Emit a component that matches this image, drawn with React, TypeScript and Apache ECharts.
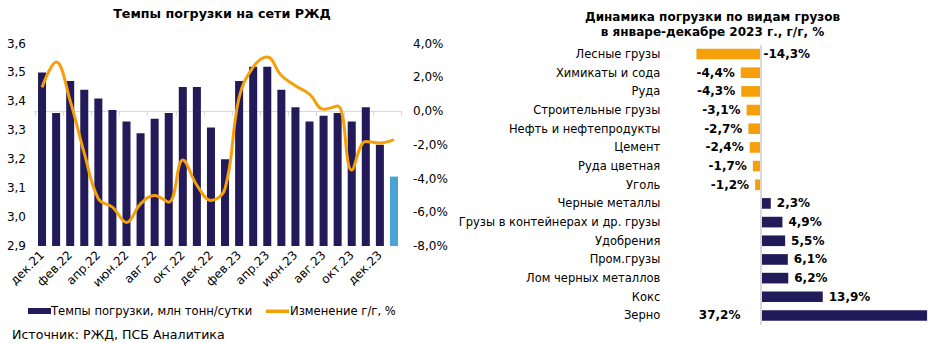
import React, { useEffect, useRef } from "react";
import * as echarts from "echarts";

const months = [
  "дек.21", "янв.22", "фев.22", "мар.22", "апр.22", "май.22", "июн.22", "июл.22", "авг.22",
  "сен.22", "окт.22", "ноя.22", "дек.22", "янв.23", "фев.23", "мар.23", "апр.23", "май.23",
  "июн.23", "июл.23", "авг.23", "сен.23", "окт.23", "ноя.23", "дек.23", "янв.24",
];
const loading = [
  3.50, 3.36, 3.47, 3.44, 3.41, 3.37, 3.33, 3.29, 3.34, 3.36, 3.45, 3.45, 3.31,
  3.20, 3.47, 3.52, 3.52, 3.44, 3.38, 3.33, 3.35, 3.36, 3.33, 3.38, 3.25, 3.14,
];
const yoy = [
  1.4, 2.9, 0.6, -2.5, -5.2, -5.7, -6.6, -5.5, -5.0, -5.4, -2.9, -4.4, -5.3,
  -4.6, 0.8, 2.6, 3.2, 2.1, 1.5, 1.0, 0.1, 0.3, -3.5, -1.8, -1.9, -1.7,
];

const cargo = [
  "Лесные грузы", "Химикаты и сода", "Руда", "Строительные грузы", "Нефть и нефтепродукты",
  "Цемент", "Руда цветная", "Уголь", "Черные металлы", "Грузы в контейнерах и др. грузы",
  "Удобрения", "Пром.грузы", "Лом черных металлов", "Кокс", "Зерно",
];
const change = [-14.3, -4.4, -4.3, -3.1, -2.7, -2.4, -1.7, -1.2, 2.3, 4.9, 5.5, 6.1, 6.2, 13.9, 37.2];

const legendNames = ["Темпы погрузки, млн тонн/сутки", "Изменение г/г, %"];

const NAVY = "#231A5A";
const ORANGE = "#F5A00B";
const BLUE = "#4AA3D4";
const GREY = "#D9D9D9";
const FONT = "'DejaVu Sans', Verdana, sans-serif";

const comma = (v: number, d: number) => v.toFixed(d).replace(".", ",");

export default function App() {
  const ref = useRef<HTMLDivElement>(null);
  useEffect(() => {
    if (!ref.current) return;
    const chart = echarts.init(ref.current, null, { renderer: "svg" });
    const lastIdx = loading.length - 1;
    chart.setOption({
      animation: false,
      textStyle: { fontFamily: FONT },
      grid: [
        { left: 35, top: 43.5, width: 366, height: 202.5, containLabel: false },
        { left: 693.3, top: 44.7, width: 237.4, height: 280.1, containLabel: false },
      ],
      xAxis: [
        {
          type: "category",
          gridIndex: 0,
          data: months,
          boundaryGap: true,
          axisLine: { lineStyle: { color: GREY, width: 1 } },
          axisTick: { show: true, interval: 1, length: 5, lineStyle: { color: GREY } },
          axisLabel: {
            interval: 1,
            rotate: 45,
            margin: 7,
            color: "#000",
            fontSize: 12,
            fontFamily: FONT,
          },
        },
        {
          type: "value",
          gridIndex: 1,
          min: -15,
          max: 38,
          show: false,
        },
      ],
      yAxis: [
        {
          type: "value",
          gridIndex: 0,
          min: 2.9,
          max: 3.6,
          interval: 0.1,
          splitLine: { show: false },
          axisLine: { show: false },
          axisTick: { show: false },
          axisLabel: {
            margin: 9,
            color: "#000",
            fontSize: 12,
            fontFamily: FONT,
            formatter: (v: number) => comma(v, 1),
          },
        },
        {
          type: "value",
          gridIndex: 0,
          position: "right",
          min: -8,
          max: 4,
          interval: 2,
          splitLine: { show: false },
          axisLine: { show: false },
          axisTick: { show: false },
          axisLabel: {
            margin: 12,
            color: "#000",
            fontSize: 12,
            fontFamily: FONT,
            formatter: (v: number) => comma(v, 1) + "%",
          },
        },
        {
          type: "category",
          gridIndex: 1,
          data: cargo,
          inverse: true,
          axisLine: { show: false },
          axisTick: { show: false },
          axisLabel: {
            margin: 33,
            color: "#000",
            fontSize: 11.5,
            fontFamily: FONT,
          },
        },
      ],
      series: [
        {
          name: legendNames[0],
          type: "bar",
          xAxisIndex: 0,
          yAxisIndex: 0,
          barWidth: "57%",
          itemStyle: { color: NAVY },
          data: loading.map((v, i) =>
            i === lastIdx ? { value: v, itemStyle: { color: BLUE } } : v
          ),
        },
        {
          name: legendNames[1],
          type: "line",
          xAxisIndex: 0,
          yAxisIndex: 1,
          smooth: 0.4,
          symbol: "none",
          lineStyle: { color: ORANGE, width: 3 },
          itemStyle: { color: ORANGE },
          data: yoy,
        },
        {
          name: "cargo",
          type: "bar",
          xAxisIndex: 1,
          yAxisIndex: 2,
          barWidth: "57%",
          label: {
            show: true,
            fontSize: 12,
            fontWeight: "bold",
            color: "#000",
            fontFamily: FONT,
            distance: 6,
            formatter: (p: any) => comma(p.value, 1) + "%",
          },
          markLine: {
            silent: true,
            symbol: "none",
            label: { show: false },
            lineStyle: { color: GREY, width: 2, type: "solid" },
            data: [{ xAxis: 0 }],
          },
          data: change.map((v, i) => {
            let position = v < 0 ? "left" : "right";
            let distance = 6;
            if (i === 0) { position = "right"; distance = 3; }
            if (i === change.length - 1) { position = "left"; distance = 20; }
            return {
              value: v,
              itemStyle: { color: v < 0 ? ORANGE : NAVY },
              label: { position, distance },
            };
          }),
        },
      ],
      graphic: [
        {
          type: "text",
          x: 222,
          y: 13,
          style: {
            text: "Темпы погрузки на сети РЖД",
            textAlign: "center",
            textVerticalAlign: "middle",
            font: `bold 12.7px ${FONT}`,
            fill: "#000",
          },
        },
        {
          type: "text",
          x: 712.5,
          y: 17,
          style: {
            text: "Динамика погрузки по видам грузов",
            textAlign: "center",
            textVerticalAlign: "middle",
            font: `bold 12px ${FONT}`,
            fill: "#000",
          },
        },
        {
          type: "text",
          x: 712.5,
          y: 32,
          style: {
            text: "в январе-декабре 2023 г., г/г, %",
            textAlign: "center",
            textVerticalAlign: "middle",
            font: `bold 12px ${FONT}`,
            fill: "#000",
          },
        },
        { type: "rect", shape: { x: 28, y: 308, width: 23, height: 6 }, style: { fill: NAVY } },
        {
          type: "text",
          x: 51,
          y: 311,
          style: {
            text: legendNames[0],
            textAlign: "left",
            textVerticalAlign: "middle",
            font: `11.6px ${FONT}`,
            fill: "#000",
          },
        },
        { type: "rect", shape: { x: 266, y: 309.5, width: 23, height: 3.5 }, style: { fill: ORANGE } },
        {
          type: "text",
          x: 290,
          y: 311,
          style: {
            text: legendNames[1],
            textAlign: "left",
            textVerticalAlign: "middle",
            font: `11.6px ${FONT}`,
            fill: "#000",
          },
        },
        {
          type: "text",
          x: 12,
          y: 334,
          style: {
            text: "Источник: РЖД, ПСБ Аналитика",
            textAlign: "left",
            textVerticalAlign: "middle",
            font: `12.6px ${FONT}`,
            fill: "#000",
          },
        },
      ],
    });
    return () => chart.dispose();
  }, []);
  return (
    <div
      ref={ref}
      style={{ position: "absolute", left: 0, top: 0, width: 948, height: 343, background: "#fff" }}
    />
  );
}
